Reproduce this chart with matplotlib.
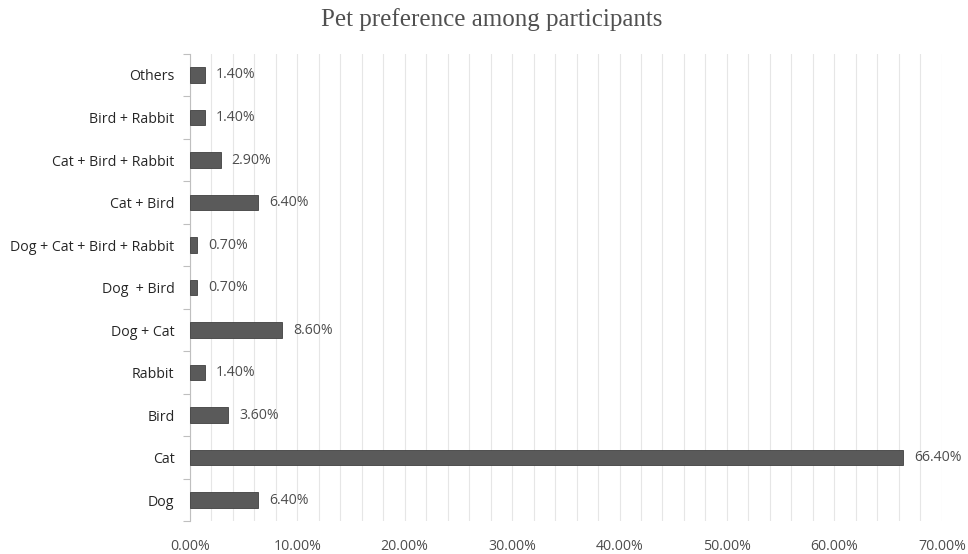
import numpy as np
import matplotlib
matplotlib.use('Agg')
from matplotlib import pyplot as plt
from matplotlib.ticker import MultipleLocator, FuncFormatter

# categories from bottom to top
categories = ['Dog', 'Cat', 'Bird', 'Rabbit', 'Dog + Cat', 'Dog  + Bird',
              'Dog + Cat + Bird + Rabbit', 'Cat + Bird', 'Cat + Bird + Rabbit',
              'Bird + Rabbit', 'Others']
percent = [6.4, 66.4, 3.6, 1.4, 8.6, 0.7, 0.7, 6.4, 2.9, 1.4, 1.4]

text_col = '#4d4d4d'
bar_col = '#5a5a5a'

plt.rcParams['font.family'] = ['Open Sans', 'DejaVu Sans']

fig = plt.figure(figsize=(9.68, 5.54), dpi=100)
ax = fig.add_axes([0.196, 0.059, 0.777, 0.844])

y = np.arange(len(categories))
ax.barh(y, percent, height=0.36, color=bar_col, edgecolor='#404040', linewidth=0.6, zorder=3)

for yi, v in zip(y, percent):
    ax.text(v + 1.0, yi, '%.2f%%' % v, va='center', ha='left', fontsize=10.2, color=text_col)

ax.set_xlim(0, 70)
ax.set_ylim(-0.5, len(categories) - 0.5)
ax.xaxis.set_major_locator(MultipleLocator(10))
ax.xaxis.set_minor_locator(MultipleLocator(2))
ax.xaxis.set_major_formatter(FuncFormatter(lambda v, p: '%.2f%%' % v))
ax.grid(axis='x', which='both', color='#e6e6e6', linewidth=0.8, zorder=0)
ax.tick_params(axis='x', which='both', length=0, labelsize=10.2, labelcolor=text_col, pad=13)

ax.set_yticks(y)
ax.set_yticklabels(categories)
ax.set_yticks(np.arange(-0.5, len(categories), 1), minor=True)
ax.tick_params(axis='y', which='major', length=0, labelsize=10.2, labelcolor='#262626', pad=11)
ax.tick_params(axis='y', which='minor', length=5, color='#bfbfbf', width=0.8)

for s in ['top', 'right', 'bottom']:
    ax.spines[s].set_visible(False)
ax.spines['left'].set_color('#bfbfbf')
ax.spines['left'].set_linewidth(0.8)

fig.suptitle('Pet preference among participants', family='Liberation Serif',
             fontsize=18, color='#505050', x=0.508, y=0.985)

fig.savefig('out.png', dpi=100, facecolor='white')
